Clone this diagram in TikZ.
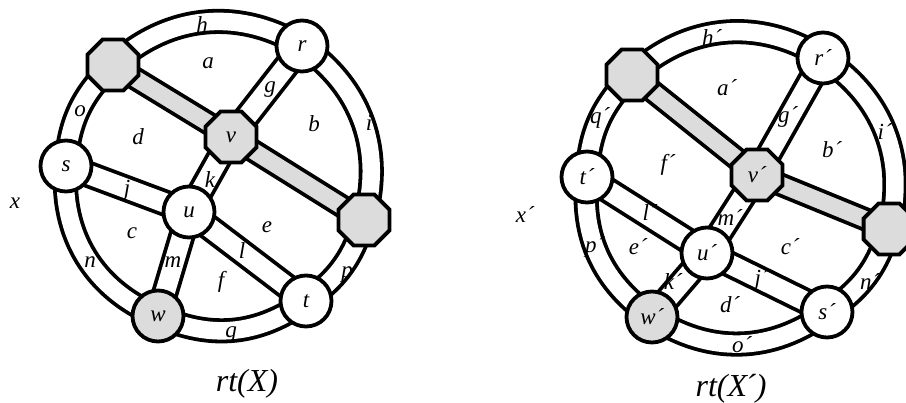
\documentclass[tikz,border=0pt]{standalone}
\usepackage{fontspec}
\setmainfont{Liberation Serif}
\usetikzlibrary{shapes.geometric}
\definecolor{shade}{RGB}{220,220,220}
\newcommand{\pr}{\kern0.5pt´}
\tikzset{
  lbl/.style={font=\fontsize{23}{23}\selectfont\itshape, inner sep=0pt},
  captext/.style={font=\fontsize{32}{32}\selectfont\itshape, inner sep=0pt},
  vtx/.style={circle, draw=black, line width=3.8pt, fill=white,
    minimum size=51pt, inner sep=0pt, font=\fontsize{23}{23}\selectfont\itshape},
  gvtx/.style={vtx, fill=shade},
  hub/.style={regular polygon, regular polygon sides=8, draw=black,
    line width=3.8pt, fill=shade, minimum size=55pt, inner sep=0pt,
    font=\fontsize{23}{23}\selectfont\itshape},
  ring/.style={draw=black, line width=3.8pt, double=white, double distance=17.5pt},
  spoke/.style={draw=black, line width=3.8pt, double=white, double distance=19.5pt},
  spine/.style={draw=black, line width=3.8pt, double=shade, double distance=16.5pt},
}
\begin{document}
\begin{tikzpicture}[x=1pt, y=1pt]
\useasboundingbox (0,0) rectangle (906,-403);

% ---------- left graph rt(X): vertex positions ----------
\coordinate (lA) at (113,-65);
\coordinate (lr) at (302,-46);
\coordinate (lv) at (231,-137);
\coordinate (ls) at (66,-166);
\coordinate (lu) at (189,-212);
\coordinate (lB) at (364,-220);
\coordinate (lt) at (306,-301);
\coordinate (lw) at (158,-316);

% outer cycle
\draw[ring] (lA) to[bend left=37] (lr);
\draw[ring] (lr) to[bend left=36] (lB);
\draw[ring] (lB) to[bend left=19] (lt);
\draw[ring] (lt) to[bend left=30] (lw);
\draw[ring] (lw) to[bend left=36.4] (ls);
\draw[ring] (ls) to[bend left=21.5] (lA);
% inner edges
\draw[spoke] (lr) -- (lv);
\draw[spoke] (lv) -- (lu);
\draw[spoke] (ls) -- (lu);
\draw[spoke] (lu) -- (lt);
\draw[spoke] (lu) -- (lw);
% shaded path
\draw[spine] (lA) -- (lv);
\draw[spine] (lv) -- (lB);

\node[hub] (nA) at (lA) {};
\node[vtx] (nr) at (lr) {r};
\node[hub] (nv) at (lv) {v};
\node[vtx] (ns) at (ls) {s};
\node[vtx] (nu) at (lu) {u};
\node[hub] (nB) at (lB) {};
\node[vtx] (nt) at (lt) {t};
\node[gvtx] (nw) at (lw) {w};

\node[lbl] (Lh) at (202,-25) {h};
\node[lbl] (La) at (208,-63) {a};
\node[lbl] (Lg) at (270,-90) {g};
\node[lbl] (Lo) at (80,-111) {o};
\node[lbl] (Ld) at (138,-137) {d};
\node[lbl] (Lb) at (314,-124) {b};
\node[lbl] (Li) at (369,-123) {i};
\node[lbl] (Lk) at (210,-180) {k};
\node[lbl] (Lj) at (127,-190) {j};
\node[lbl] (Lx) at (15,-203) {x};
\node[lbl] (Le) at (267,-227) {e};
\node[lbl] (Lc) at (132,-233) {c};
\node[lbl] (Ll) at (242,-251) {l};
\node[lbl] (Ln) at (90,-262) {n};
\node[lbl] (Lm) at (173,-262) {m};
\node[lbl] (Lf) at (221,-282) {f};
\node[lbl] (Lp) at (347,-275) {p};
\node[lbl] (Lq) at (231,-335) {q};
\node[captext] (Lcap) at (247,-384) {rt(X)};

% ---------- right graph rt(X′): vertex positions ----------
\coordinate (rA) at (632,-75);
\coordinate (rr) at (823,-58);
\coordinate (rv) at (757,-175);
\coordinate (rB) at (889,-229);
\coordinate (rs) at (827,-312);
\coordinate (rw) at (652,-317);
\coordinate (rt) at (587,-177);
\coordinate (ru) at (707,-253);

% outer cycle
\draw[ring] (rA) to[bend left=37.7] (rr);
\draw[ring] (rr) to[bend left=35.9] (rB);
\draw[ring] (rB) to[bend left=19.7] (rs);
\draw[ring] (rs) to[bend left=35.1] (rw);
\draw[ring] (rw) to[bend left=30.4] (rt);
\draw[ring] (rt) to[bend left=21.2] (rA);
% inner edges
\draw[spoke] (rr) -- (rv);
\draw[spoke] (rv) -- (ru);
\draw[spoke] (rt) -- (ru);
\draw[spoke] (rw) -- (ru);
\draw[spoke] (ru) -- (rs);
% shaded path
\draw[spine] (rA) -- (rv);
\draw[spine] (rv) -- (rB);

\node[hub] (mA) at (rA) {};
\node[vtx] (mr) at (rr) {r\pr};
\node[hub] (mv) at (rv) {v\pr};
\node[hub] (mB) at (rB) {};
\node[vtx] (ms) at (rs) {s\pr};
\node[gvtx] (mw) at (rw) {w\pr};
\node[vtx] (mt) at (rt) {t\pr};
\node[vtx] (mu) at (ru) {u\pr};

\node[lbl] (Rh) at (712,-38) {h\pr};
\node[lbl] (Ra) at (727,-88) {a\pr};
\node[lbl] (Rq) at (600,-118) {q\pr};
\node[lbl] (Rg) at (788,-117) {g\pr};
\node[lbl] (Rb) at (832,-150) {b\pr};
\node[lbl] (Ri) at (885,-132) {i\pr};
\node[lbl] (Rf) at (668,-165) {f\pr};
\node[lbl] (Rx) at (525,-215) {x\pr};
\node[lbl] (Rl) at (650,-213) {l\pr};
\node[lbl] (Rm) at (730,-218) {m\pr};
\node[lbl] (Rp) at (595,-247) {p\pr};
\node[lbl] (Re) at (638,-247) {e\pr};
\node[lbl] (Rc) at (790,-247) {c\pr};
\node[lbl] (Rk) at (673,-282) {k\pr};
\node[lbl] (Rj) at (762,-280) {j\pr};
\node[lbl] (Rn) at (870,-282) {n\pr};
\node[lbl] (Rd) at (730,-305) {d\pr};
\node[lbl] (Ro) at (742,-345) {o\pr};
\node[captext] (Rcap) at (731,-389) {rt(X\kern-2pt´)};
\end{tikzpicture}
\end{document}
